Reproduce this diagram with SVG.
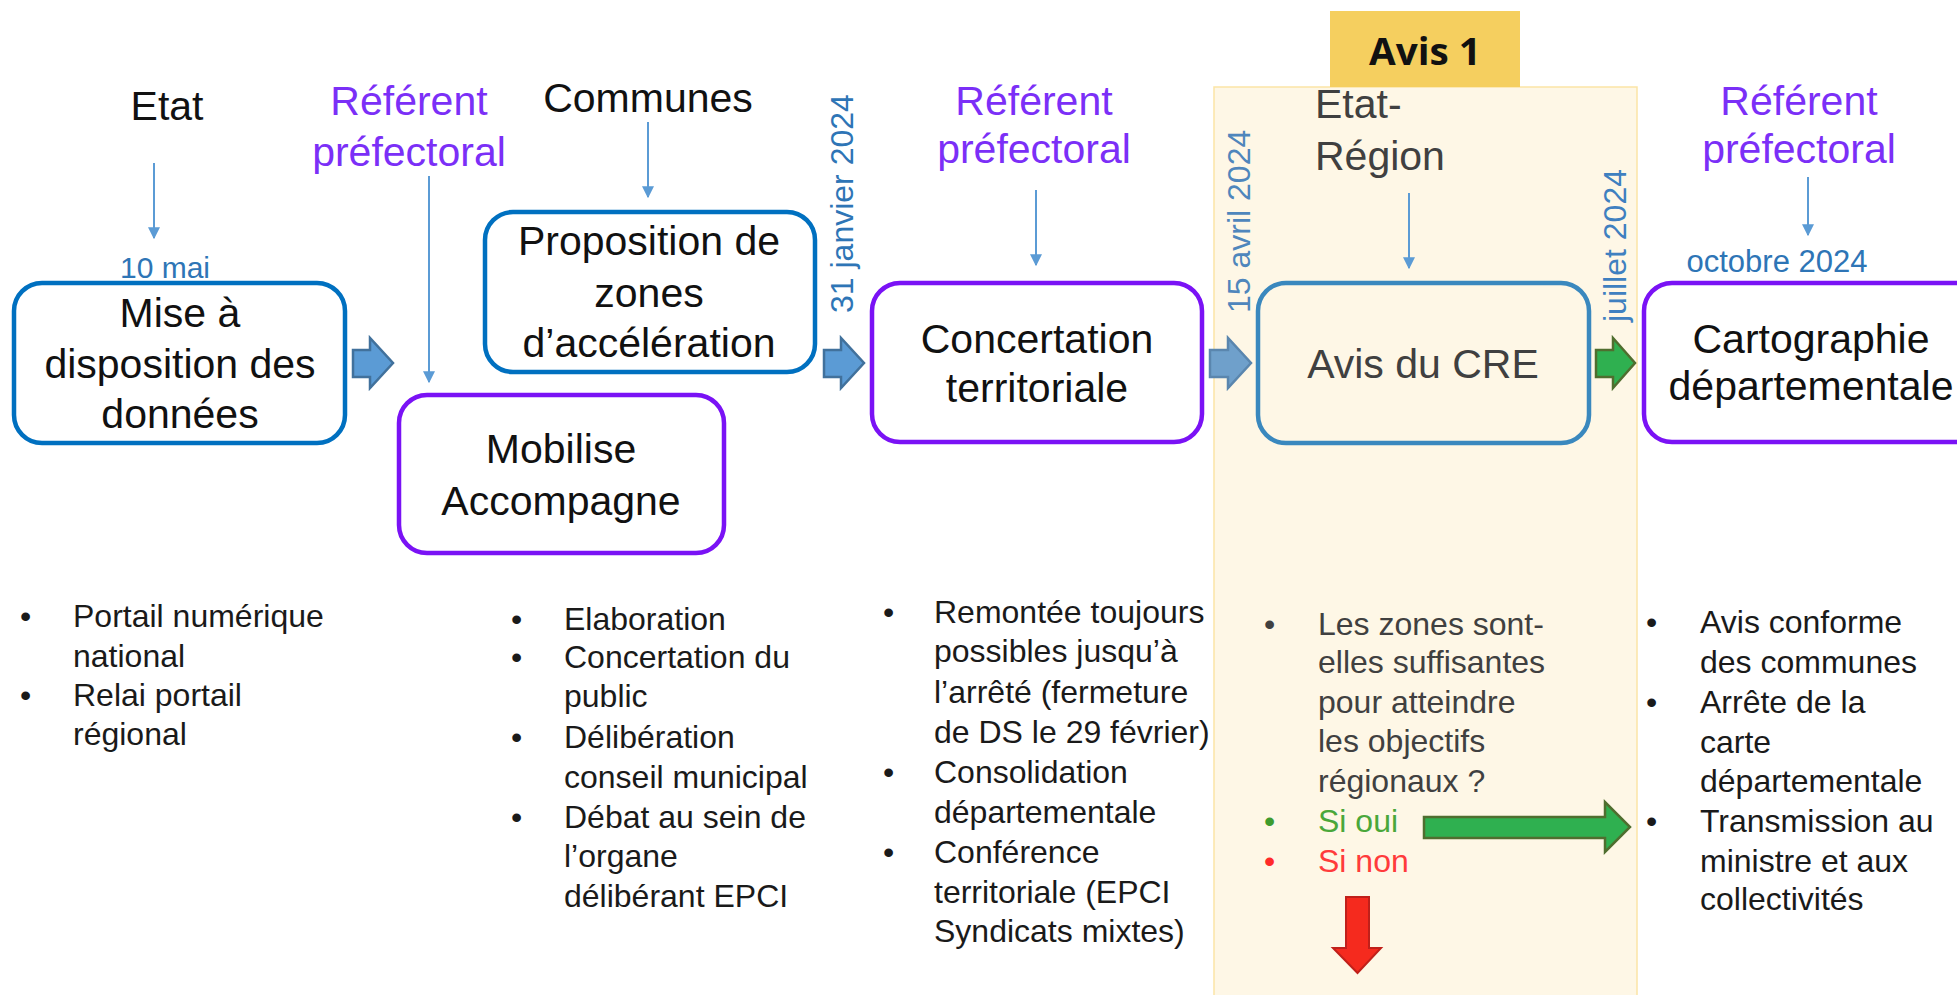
<svg xmlns="http://www.w3.org/2000/svg" width="1957" height="995" viewBox="0 0 1957 995">
<defs>
<style>
text{font-family:"Liberation Sans",Arial,sans-serif;}
.big{font-size:41px;fill:#111;text-anchor:middle;}
.ref{font-size:41px;fill:#7B2FF7;text-anchor:middle;}
.gray{font-size:41px;fill:#404040;}
.date{font-size:31px;fill:#2E75B6;}
.blt{font-size:32px;fill:#1a1a1a;}
.blt4{font-size:32px;fill:#404040;}
.boxb{fill:#fff;stroke:#0070C0;stroke-width:4.5;}
.boxp{fill:#fff;stroke:#7A12F5;stroke-width:4.5;}
.thin{stroke:#5B9BD5;stroke-width:2;fill:none;marker-end:url(#ah);}
.blk{fill:#5B9BD5;stroke:#41719C;stroke-width:2.5;}
</style>
<marker id="ah" viewBox="0 0 10 10" refX="9" refY="5" markerWidth="6" markerHeight="6" orient="auto" markerUnits="strokeWidth">
<path d="M0,0 L10,5 L0,10 Z" fill="#5B9BD5"/>
</marker>
</defs>
<rect width="1957" height="995" fill="#fff"/>

<g id="panel-avis">
<rect x="1214" y="87" width="423" height="910" fill="#FEF7E6" stroke="#FBE5A6" stroke-width="1.5"/>
<rect x="1330" y="11" width="190" height="76" fill="#F5CF5F"/>
<text x="1425" y="65" text-anchor="middle" style="font-family:'Open Sans','Liberation Sans',sans-serif;font-weight:bold;font-size:38px;fill:#111" textLength="112" lengthAdjust="spacingAndGlyphs">Avis 1</text>
</g>

<g id="labels">
<text class="big" x="167" y="120">Etat</text>
<text class="ref" x="409" y="115">Référent</text>
<text class="ref" x="409" y="166">préfectoral</text>
<text class="big" x="648" y="112">Communes</text>
<text class="ref" x="1034" y="115">Référent</text>
<text class="ref" x="1034" y="163">préfectoral</text>
<text class="gray" x="1315" y="118">Etat-</text>
<text class="gray" x="1315" y="170">Région</text>
<text class="ref" x="1799" y="115">Référent</text>
<text class="ref" x="1799" y="163">préfectoral</text>
<text class="date" x="165" y="278" text-anchor="middle" style="font-size:30px">10 mai</text>
<text class="date" x="1777" y="272" text-anchor="middle">octobre 2024</text>
<text class="date" transform="translate(853,313) rotate(-90)" style="font-size:32px">31 janvier 2024</text>
<text class="date" transform="translate(1250,313) rotate(-90)" style="font-size:32px;fill:#4F86BC">15 avril 2024</text>
<text class="date" transform="translate(1626,322) rotate(-90)" style="font-size:32px;fill:#3F80C0">juillet 2024</text>
</g>

<g id="connectors">
<line class="thin" x1="154" y1="163" x2="154" y2="238"/>
<line class="thin" x1="429" y1="176" x2="429" y2="382"/>
<line class="thin" x1="648" y1="122" x2="648" y2="197"/>
<line class="thin" x1="1036" y1="190" x2="1036" y2="265"/>
<line class="thin" x1="1409" y1="193" x2="1409" y2="268"/>
<line class="thin" x1="1808" y1="177" x2="1808" y2="235"/>
<path class="blk" d="M353,350 L370,350 L370,338 L393,363 L370,388 L370,377 L353,377 Z"/>
<path class="blk" d="M824,350 L841,350 L841,338 L864,363 L841,388 L841,377 L824,377 Z"/>
<path d="M1210,350 L1228,350 L1228,338 L1251,363 L1228,388 L1228,377 L1210,377 Z" fill="#6FA0CB" stroke="#5A86AE" stroke-width="2.5"/>
<path d="M1596,350 L1613,350 L1613,338 L1635,363 L1613,388 L1613,377 L1596,377 Z" fill="#2FB050" stroke="#4F6E2F" stroke-width="2.5"/>
<path d="M1424,817 L1605,817 L1605,802 L1630,827 L1605,852 L1605,838 L1424,838 Z" fill="#2FB050" stroke="#4F6E2F" stroke-width="2.5"/>
<path d="M1346,897 L1369,897 L1369,948 L1381,948 L1357.5,973 L1333,948 L1346,948 Z" fill="#F52A1E" stroke="#C0201A" stroke-width="2"/>
</g>

<g id="node-mise">
<rect class="boxb" x="14" y="283" width="331" height="160" rx="28"/>
<text class="big" x="180" y="327">Mise à</text>
<text class="big" x="180" y="378">disposition des</text>
<text class="big" x="180" y="428">données</text>
</g>

<g id="node-proposition">
<rect class="boxb" x="485" y="212" width="330" height="160" rx="28"/>
<text class="big" x="649" y="255">Proposition de</text>
<text class="big" x="649" y="307">zones</text>
<text class="big" x="649" y="357">d’accélération</text>
</g>

<g id="node-mobilise">
<rect class="boxp" x="399" y="395" width="325" height="158" rx="28"/>
<text class="big" x="561" y="463">Mobilise</text>
<text class="big" x="561" y="515">Accompagne</text>
</g>

<g id="node-concertation">
<rect class="boxp" x="872" y="283" width="330" height="159" rx="28"/>
<text class="big" x="1037" y="353">Concertation</text>
<text class="big" x="1037" y="402">territoriale</text>
</g>

<g id="node-avis-cre">
<rect x="1258" y="283" width="331" height="160" rx="28" fill="none" stroke="#3A88BE" stroke-width="4.5"/>
<text class="gray" x="1423" y="378" text-anchor="middle">Avis du CRE</text>
</g>

<g id="node-cartographie">
<rect class="boxp" x="1644" y="283" width="350" height="159" rx="28"/>
<text class="big" x="1811" y="353">Cartographie</text>
<text class="big" x="1811" y="400">départementale</text>
</g>

<g id="bullets-1">
<text class="blt" x="20" y="627">•</text>
<text class="blt" x="73" y="627">Portail numérique</text>
<text class="blt" x="73" y="667">national</text>
<text class="blt" x="20" y="706">•</text>
<text class="blt" x="73" y="706">Relai portail</text>
<text class="blt" x="73" y="745">régional</text>
</g>

<g id="bullets-2">
<text class="blt" x="511" y="630">•</text>
<text class="blt" x="564" y="630">Elaboration</text>
<text class="blt" x="511" y="668">•</text>
<text class="blt" x="564" y="668">Concertation du</text>
<text class="blt" x="564" y="707">public</text>
<text class="blt" x="511" y="748">•</text>
<text class="blt" x="564" y="748">Délibération</text>
<text class="blt" x="564" y="788">conseil municipal</text>
<text class="blt" x="511" y="828">•</text>
<text class="blt" x="564" y="828">Débat au sein de</text>
<text class="blt" x="564" y="867">l’organe</text>
<text class="blt" x="564" y="907">délibérant EPCI</text>
</g>

<g id="bullets-3">
<text class="blt" x="883" y="623">•</text>
<text class="blt" x="934" y="623">Remontée toujours</text>
<text class="blt" x="934" y="662">possibles jusqu’à</text>
<text class="blt" x="934" y="703">l’arrêté (fermeture</text>
<text class="blt" x="934" y="743">de DS le 29 février)</text>
<text class="blt" x="883" y="783">•</text>
<text class="blt" x="934" y="783">Consolidation</text>
<text class="blt" x="934" y="823">départementale</text>
<text class="blt" x="883" y="863">•</text>
<text class="blt" x="934" y="863">Conférence</text>
<text class="blt" x="934" y="903">territoriale (EPCI</text>
<text class="blt" x="934" y="942">Syndicats mixtes)</text>
</g>

<g id="bullets-4">
<text class="blt4" x="1264" y="635">•</text>
<text class="blt4" x="1318" y="635">Les zones sont-</text>
<text class="blt4" x="1318" y="673">elles suffisantes</text>
<text class="blt4" x="1318" y="713">pour atteindre</text>
<text class="blt4" x="1318" y="752">les objectifs</text>
<text class="blt4" x="1318" y="792">régionaux ?</text>
<text class="blt4" x="1264" y="832" style="fill:#3E9B2E">•</text>
<text class="blt4" x="1318" y="832" style="fill:#4AA73A">Si oui</text>
<text class="blt4" x="1264" y="872" style="fill:#FF2A2A">•</text>
<text class="blt4" x="1318" y="872" style="fill:#FF3B3B">Si non</text>
</g>

<g id="bullets-5">
<text class="blt" x="1646" y="633">•</text>
<text class="blt" x="1700" y="633">Avis conforme</text>
<text class="blt" x="1700" y="673">des communes</text>
<text class="blt" x="1646" y="713">•</text>
<text class="blt" x="1700" y="713">Arrête de la</text>
<text class="blt" x="1700" y="753">carte</text>
<text class="blt" x="1700" y="792">départementale</text>
<text class="blt" x="1646" y="832">•</text>
<text class="blt" x="1700" y="832">Transmission au</text>
<text class="blt" x="1700" y="872">ministre et aux</text>
<text class="blt" x="1700" y="910">collectivités</text>
</g>
</svg>
